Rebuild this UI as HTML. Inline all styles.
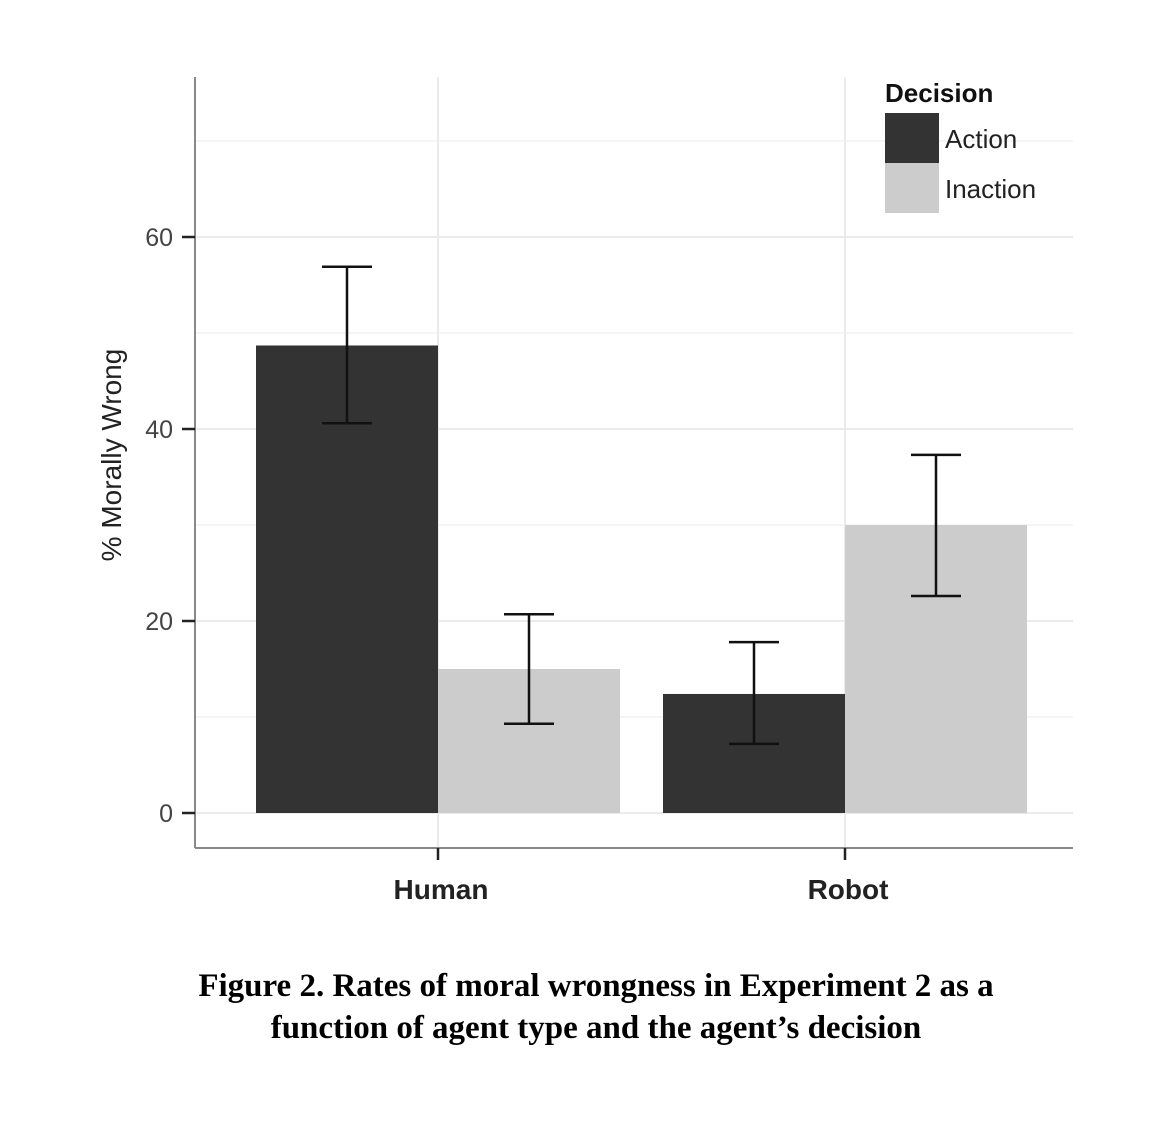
<!DOCTYPE html>
<html><head><meta charset="utf-8"><style>
body{margin:0;background:#fff;width:1170px;height:1117px;overflow:hidden}
</style></head><body>
<svg id="chart" width="1170" height="1117" xmlns="http://www.w3.org/2000/svg" font-family="Liberation Sans, sans-serif"></svg>
<script>
const categories=["Human","Robot"];
const seriesNames=["Action","Inaction"];
const actionValues=[48.7,12.4];
const inactionValues=[15.0,30.0];
const actionLow=[40.6,7.2];
const actionHigh=[56.9,17.8];
const inactionLow=[9.3,22.6];
const inactionHigh=[20.7,37.3];
const yTicks=[0,20,40,60];
const yMinor=[10,30,50,70];

const svg=document.getElementById('chart');
const NS='http://www.w3.org/2000/svg';
const L=195,R=1073,T=77,B=848;
const y0=813,ppu=9.6;
const y=v=>y0-v*ppu;
const bandW=407,firstC=438;
const xc=i=>firstC+i*bandW;
const barW=182;
const colors=["#333333","#cccccc"];
function mk(tag,attrs,parent){const e=document.createElementNS(NS,tag);for(const k in attrs)e.setAttribute(k,attrs[k]);(parent||svg).appendChild(e);return e;}

// gridlines
yMinor.forEach(v=>{const g=mk('line',{x1:L+1,x2:R,y1:y(v),y2:y(v),stroke:'#f2f2f2','stroke-width':1.5});

});
yTicks.forEach(v=>{const g=mk('line',{x1:L+1,x2:R,y1:y(v),y2:y(v),stroke:'#ebebeb','stroke-width':2});

});
categories.forEach((c,i)=>{const g=mk('line',{x1:xc(i),x2:xc(i),y1:T,y2:B,stroke:'#ebebeb','stroke-width':2});

});

// bars and error bars
const vals=[actionValues,inactionValues],lows=[actionLow,inactionLow],highs=[actionHigh,inactionHigh];
categories.forEach((c,i)=>{
  [0,1].forEach(s=>{
    const x=s===0?xc(i)-barW:xc(i);
    const r=mk('rect',{x:x,y:y(vals[s][i]),width:barW,height:y0-y(vals[s][i]),fill:colors[s]});
    
    
    const cx=x+barW/2;
    const g=mk('g',{stroke:'#111','stroke-width':2.5,fill:'none'});
    
    
    mk('line',{x1:cx,x2:cx,y1:y(highs[s][i]),y2:y(lows[s][i])},g);
    mk('line',{x1:cx-25,x2:cx+25,y1:y(highs[s][i]),y2:y(highs[s][i])},g);
    mk('line',{x1:cx-25,x2:cx+25,y1:y(lows[s][i]),y2:y(lows[s][i])},g);
  });
});

// axes
const ya=mk('line',{x1:L,x2:L,y1:T,y2:B,stroke:'#888','stroke-width':2});


const xa=mk('line',{x1:L,x2:R,y1:B,y2:B,stroke:'#888','stroke-width':2});


yTicks.forEach(v=>{
  const t=mk('line',{x1:182,x2:L,y1:y(v),y2:y(v),stroke:'#222','stroke-width':2.5});
  
  
  const tx=mk('text',{x:173,y:y(v)+9,'text-anchor':'end','font-size':25,fill:'#444'});
  tx.textContent=v;
  
  
});
categories.forEach((c,i)=>{
  const t=mk('line',{x1:xc(i),x2:xc(i),y1:B,y2:B+12,stroke:'#222','stroke-width':2.5});
  
  
  const tx=mk('text',{x:xc(i)+3,y:899,'text-anchor':'middle','font-size':28,'font-weight':'bold',fill:'#222'});
  tx.textContent=c;
  
  
});
const yt=mk('text',{x:0,y:0,transform:'translate(121,455) rotate(-90)','text-anchor':'middle','font-size':28,fill:'#222'});
yt.textContent='% Morally Wrong';



// legend
const lg=mk('g',{});


const lt=mk('text',{x:885,y:102,'font-size':26,'font-weight':'bold',fill:'#111'},lg);
lt.textContent='Decision';


seriesNames.forEach((n,s)=>{
  const k=mk('rect',{x:885,y:113+s*50,width:54,height:50,fill:colors[s]},lg);
  
  
  const t=mk('text',{x:945,y:148+s*50,'font-size':26,fill:'#222'},lg);
  t.textContent=n;
  
  
});

// caption
const cap=mk('text',{x:596,y:996,'text-anchor':'middle','font-size':33,'font-weight':'bold','font-family':'Liberation Serif, serif',fill:'#000'});
cap.textContent='Figure 2. Rates of moral wrongness  in Experiment 2 as a';


const cap2=mk('text',{x:596,y:1038,'text-anchor':'middle','font-size':33,'font-weight':'bold','font-family':'Liberation Serif, serif',fill:'#000'});
cap2.textContent='function of agent type and the agent\u2019s decision';


</script>
</body></html>
